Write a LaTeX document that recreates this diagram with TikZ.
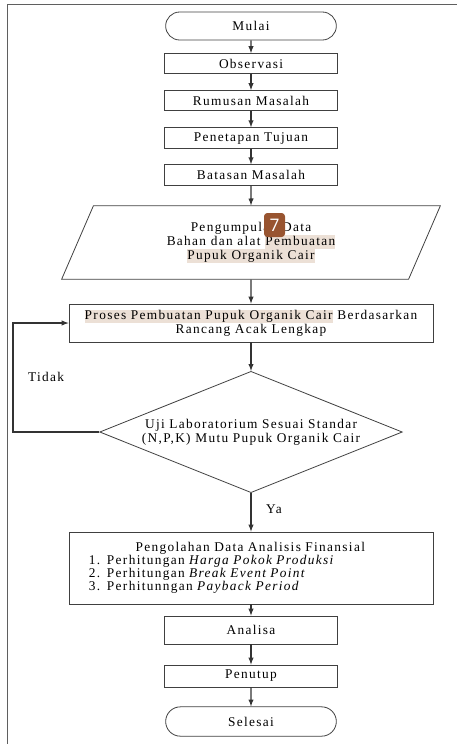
\documentclass[tikz,border=0pt]{standalone}
\usepackage{fontspec}
\setmainfont{Liberation Serif}[LetterSpace=10]
\newfontfamily\badgefont{Open Sans}
\usetikzlibrary{shapes.geometric, shapes.misc, positioning}

\definecolor{hlcol}{RGB}{236,224,214}
\definecolor{badgecol}{RGB}{152,84,48}
\definecolor{framecol}{RGB}{95,95,95}
\newsavebox\hlbox
\newcommand\hlt[1]{\sbox\hlbox{#1}\rlap{\textcolor{hlcol}{\rule[-2.8pt]{\wd\hlbox}{10.4pt}}}\usebox\hlbox}

\begin{document}
\begin{tikzpicture}[x=0.75pt, y=-0.75pt,
    font=\fontsize{10}{10.5}\selectfont,
    base/.style={draw=black!75, line width=0.6pt, align=center, inner sep=1pt},
    terminal/.style={base, rounded rectangle, minimum width=130pt, minimum height=21pt},
    process/.style={base, rectangle, minimum width=130pt, minimum height=15pt},
    wide/.style={process, minimum width=273pt},
    io/.style={base, trapezium, trapezium left angle=54, trapezium right angle=126, trapezium stretches body, minimum width=284pt, minimum height=55pt},
    decision/.style={base, diamond, aspect=2.5, minimum width=227pt, minimum height=91pt},
    flow/.style={-latex, line width=0.8pt, draw=black!80}]

    \useasboundingbox (0,0) rectangle (457,744);
    \draw[framecol, line width=1.2pt] (7.5,744) -- (7.5,4.5) -- (457,4.5);

    \node[terminal] (mulai) at (251,26) {Mulai};
    \node[process] (obs) at (251,63.5) {Observasi};
    \node[process] (rumusan) at (251,100.5) {Rumusan Masalah};
    \node[process, minimum height=15.5pt] (tujuan) at (251,138) {Penetapan Tujuan};
    \node[process, minimum height=15.5pt] (batasan) at (251,175) {Batasan Masalah};
    \node[io] (data) at (251,242.5) {Pengumpulan Data\\
        Bahan dan alat \hlt{Pembuatan}\\
        \hlt{Pupuk Organik Cair}};
    \node[fill=badgecol, text=white, rounded corners=2.5pt, minimum width=15.75pt, minimum height=18pt, inner sep=0,
        font=\badgefont\fontsize{13}{13}\selectfont] (badge) at (274.5,225) {7};
    \node[wide, minimum height=28.5pt] (proses) at (251,323) {\hlt{Proses Pembuatan Pupuk Organik Cair} Berdasarkan\\
        Rancang Acak Lengkap};
    \node[decision] (uji) at (251,432) {Uji Laboratorium Sesuai Standar\\(N,P,K) Mutu Pupuk Organik Cair};
    \node[wide, minimum height=54pt, text width=243pt, inner xsep=15pt, align=left,
        font=\fontsize{10}{9.8}\selectfont] (olah) at (251,568) {\hspace*{35pt}Pengolahan Data Analisis Finansial\\
        1. Perhitungan \textit{Harga Pokok Produksi}\\
        2. Perhitungan \textit{Break Event Point}\\
        3. Perhitunngan \textit{Payback Period}};
    \node[process, minimum height=21pt] (analisa) at (251,630) {Analisa};
    \node[process, minimum height=16.5pt] (penutup) at (251,676) {Penutup};
    \node[terminal, minimum height=22pt] (selesai) at (251,721.5) {Selesai};

    \node (tidak) at (46,377) {Tidak};
    \node (ya) at (274,509) {Ya};
    \coordinate (back) at (13,0);

    \draw[flow] (mulai) -- (obs);
    \draw[flow] (obs) -- (rumusan);
    \draw[flow] (rumusan) -- (tujuan);
    \draw[flow] (tujuan) -- (batasan);
    \draw[flow] (batasan) -- (data);
    \draw[flow] (data) -- (proses);
    \draw[flow] (proses) -- (uji);
    \draw[flow] (uji) -- (olah);
    \draw[flow] (olah) -- (analisa);
    \draw[flow] (analisa) -- (penutup);
    \draw[flow] (penutup) -- (selesai);
    \draw[flow] (uji.west) -- (uji.west -| back) |- (proses.west);
\end{tikzpicture}
\end{document}
